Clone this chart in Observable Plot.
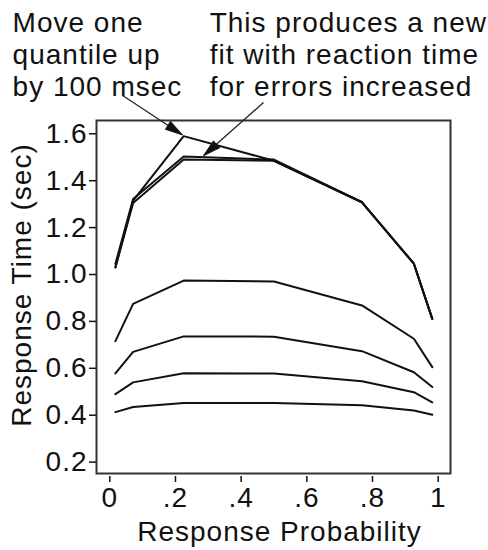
<!DOCTYPE html>
<html><head><meta charset="utf-8">
<script src="https://cdn.jsdelivr.net/npm/d3@7"></script>
<script src="https://cdn.jsdelivr.net/npm/@observablehq/plot@0.6"></script>
<style>
html,body{margin:0;padding:0;background:#fff;}
#chart svg text{letter-spacing:1px;}
</style></head><body><div id="chart"></div>
<script>
// Response probability (x) for each condition point
const probability = [0.017, 0.071, 0.225, 0.5, 0.768, 0.926, 0.982];
// Quantile RTs (sec)
const quantile10 = [0.413, 0.435, 0.452, 0.452, 0.442, 0.420, 0.402];
const quantile30 = [0.490, 0.540, 0.579, 0.578, 0.545, 0.498, 0.455];
const quantile50 = [0.578, 0.670, 0.736, 0.735, 0.673, 0.583, 0.520];
const quantile70 = [0.716, 0.875, 0.974, 0.970, 0.868, 0.726, 0.605];
const quantile90Fit = [1.030, 1.305, 1.490, 1.485, 1.308, 1.046, 0.811];
const quantile90Moved = [1.030, 1.315, 1.590, 1.485, 1.308, 1.046, 0.811];
const quantile90NewFit = [1.045, 1.322, 1.503, 1.490, 1.308, 1.046, 0.811];

const xTicks = [0, 0.2, 0.4, 0.6, 0.8, 1];
const xTickLabels = ["0", ".2", ".4", ".6", ".8", "1"];
const yTicks = [0.2, 0.4, 0.6, 0.8, 1.0, 1.2, 1.4, 1.6];
const xTitle = "Response Probability";
const yTitle = "Response Time (sec)";

// Annotations (data coordinates)
const noteText = ["Move one\nquantile up\nby 100 msec", "This produces a new\nfit with reaction time\nfor errors increased"];
const noteX = [-0.296, 0.304];
const noteY = [2.13, 2.13];
const arrowX1 = [0.039, 0.468];
const arrowY1 = [1.763, 1.733];
const arrowX2 = [0.2205, 0.286];
const arrowY2 = [1.596, 1.507];

const W = 488, H = 550;
const mL = 96, mR = 38, mT = 120, mB = 77;
const xDomain = [-0.0405, 1.0375];
const yDomain = [0.1514, 1.6567];

const seriesDefs = [
  ["q10", quantile10], ["q30", quantile30], ["q50", quantile50], ["q70", quantile70],
  ["q90fit", quantile90Fit], ["q90moved", quantile90Moved], ["q90new", quantile90NewFit]
];
const rows = seriesDefs.flatMap(([k, vals]) => vals.map((v, i) => ({series: k, p: probability[i], rt: v})));

const arrows = arrowX1.map((x1, i) => ({x1, y1: arrowY1[i], x2: arrowX2[i], y2: arrowY2[i]}));
// screen angle of each arrow for the arrowhead
const sx = d3.scaleLinear(xDomain, [mL, W - mR]);
const sy = d3.scaleLinear(yDomain, [H - mB, mT]);
arrows.forEach(a => {
  const dx = sx(a.x2) - sx(a.x1), dy = sy(a.y2) - sy(a.y1);
  a.angle = Math.atan2(dx, -dy) * 180 / Math.PI;
});
const notes = noteText.map((t, i) => ({t, x: noteX[i], y: noteY[i]}));

const headShape = {
  draw(context, l) {
    context.moveTo(0, -l);
    context.lineTo(-4.5, 0);
    context.lineTo(4.5, 0);
    context.closePath();
  }
};

const chart = Plot.plot({
  width: W, height: H,
  marginLeft: mL, marginRight: mR, marginTop: mT, marginBottom: mB,
  style: {fontFamily: "'Liberation Sans', Arial, Helvetica, sans-serif", fontSize: "28px", color: "#111", background: "#fff"},
  x: {domain: xDomain},
  y: {domain: yDomain},
  marks: [
    Plot.frame({stroke: "#333", strokeWidth: 2}),
    Plot.axisY({ticks: yTicks, tickFormat: d3.format(".1f"), tickSize: 7, tickPadding: 2, label: null, strokeWidth: 1.5}),
    Plot.axisX({ticks: xTicks, tickFormat: (d, i) => xTickLabels[i], tickSize: 6, tickPadding: 5, dy: 3, label: null, strokeWidth: 1.5}),
    Plot.line(rows, {x: "p", y: "rt", z: "series", stroke: "#111", strokeWidth: 2}),
    Plot.link(arrows, {x1: "x1", y1: "y1", x2: "x2", y2: "y2", stroke: "#222", strokeWidth: 1.3}),
    Plot.vector(arrows, {x: "x2", y: "y2", rotate: "angle", length: 17, anchor: "end", shape: headShape, fill: "#111", stroke: "#111", strokeWidth: 1}),
    Plot.text(notes, {x: "x", y: "y", text: "t", textAnchor: "start", lineAnchor: "top", lineHeight: 1.143, fill: "#111"}),
    Plot.text([xTitle], {frameAnchor: "bottom", text: d => d, dx: 6, dy: 67, lineAnchor: "bottom", fill: "#111"}),
    Plot.text([yTitle], {frameAnchor: "left", text: d => d, rotate: -90, textAnchor: "middle", dx: -66, dy: -12, lineAnchor: "bottom", fill: "#111"})
  ]
});
document.getElementById("chart").appendChild(chart);
</script>
</body></html>
